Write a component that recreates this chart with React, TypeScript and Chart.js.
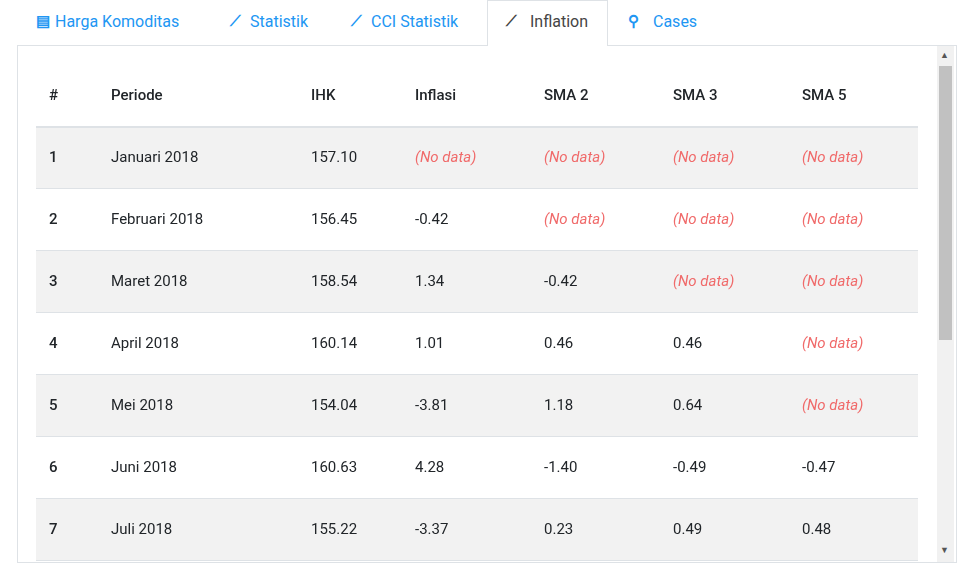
import React, { useRef, useEffect } from 'react';
import { Chart, registerables } from 'chart.js';

Chart.register(...registerables);

const headers = ['#', 'Periode', 'IHK', 'Inflasi', 'SMA 2', 'SMA 3', 'SMA 5'];
const periods = ['Januari 2018', 'Februari 2018', 'Maret 2018', 'April 2018', 'Mei 2018', 'Juni 2018', 'Juli 2018'];
const ihk = [157.1, 156.45, 158.54, 160.14, 154.04, 160.63, 155.22];
const inflasi = [null, -0.42, 1.34, 1.01, -3.81, 4.28, -3.37];
const sma2 = [null, null, -0.42, 0.46, 1.18, -1.4, 0.23];
const sma3 = [null, null, null, 0.46, 0.64, -0.49, 0.49];
const sma5 = [null, null, null, null, null, -0.47, 0.48];

const colX = [13, 75, 275, 379, 508, 637, 766];
const ROW_H = 62;
const W = 882;
const H = 497;
const FONT = 'Roboto, "Noto Sans", sans-serif';

function fmt(v: number | null) {
  return v === null ? null : v.toFixed(2);
}

const tablePlugin = {
  id: 'tablePlugin',
  afterDraw(chart: any) {
    const ctx = chart.ctx;
    const xs = chart.scales.x;
    const ys = chart.scales.y;
    const left = xs.getPixelForValue(0);
    const right = xs.getPixelForValue(W);
    ctx.save();
    ctx.textBaseline = 'middle';
    // header
    ctx.font = `500 15px ${FONT}`;
    ctx.fillStyle = '#212529';
    headers.forEach((h, i) => ctx.fillText(h, xs.getPixelForValue(colX[i]), ys.getPixelForValue(0.5)));
    periods.forEach((p, r) => {
      const top = ys.getPixelForValue(r + 1);
      const bot = ys.getPixelForValue(r + 2);
      if (r % 2 === 0) {
        ctx.fillStyle = '#f2f2f2';
        ctx.fillRect(left, top, right - left, bot - top);
      }
      ctx.fillStyle = '#dee2e6';
      ctx.fillRect(left, bot - 1, right - left, 1);
      const cy = (top + bot) / 2;
      const cells = [String(r + 1), p, ihk[r].toFixed(2), fmt(inflasi[r]), fmt(sma2[r]), fmt(sma3[r]), fmt(sma5[r])];
      cells.forEach((c, i) => {
        const x = xs.getPixelForValue(colX[i]);
        if (c === null) {
          ctx.font = `italic 15px ${FONT}`;
          ctx.fillStyle = '#f06a6a';
          ctx.fillText('(No data)', x, cy);
        } else {
          ctx.font = i === 0 ? `500 15px ${FONT}` : `15px ${FONT}`;
          ctx.fillStyle = '#212529';
          ctx.fillText(c, x, cy);
        }
      });
    });
    ctx.fillStyle = '#dee2e6';
    ctx.fillRect(left, ys.getPixelForValue(1) - 1, right - left, 2);
    ctx.restore();
  },
};

function TableChart() {
  const ref = useRef<HTMLCanvasElement>(null);
  useEffect(() => {
    if (!ref.current) return;
    const chart = new Chart(ref.current, {
      type: 'scatter',
      data: { datasets: [{ data: [] }] },
      options: {
        animation: false,
        responsive: true,
        maintainAspectRatio: false,
        layout: { padding: 0 },
        plugins: { legend: { display: false }, tooltip: { enabled: false } },
        scales: {
          x: { type: 'linear', min: 0, max: W, display: false },
          y: { type: 'linear', min: 0, max: H / ROW_H, reverse: true, display: false },
        },
      },
      plugins: [tablePlugin],
    });
    return () => chart.destroy();
  }, []);
  return (
    <div style={{ position: 'absolute', left: 36, top: 65, width: W, height: H }}>
      <canvas ref={ref} />
    </div>
  );
}

const tabs = [
  { icon: '▤', text: 'Harga Komoditas', iconX: 36, x: 55 },
  { icon: '⟋', text: 'Statistik', iconX: 230, x: 250 },
  { icon: '⟋', text: 'CCI Statistik', iconX: 351, x: 371 },
  { icon: '⟋', text: 'Inflation', iconX: 506, x: 530, active: true },
  { icon: '⚲', text: 'Cases', iconX: 628, x: 653 },
];

export default function App() {
  return (
    <div style={{ position: 'absolute', left: 0, top: 0, width: 972, height: 578, background: '#fff', fontFamily: FONT }}>
      <div style={{ position: 'absolute', left: 17, top: 45, width: 940, height: 518, border: '1px solid #dee2e6', boxSizing: 'border-box' }} />
      <div style={{ position: 'absolute', left: 487, top: 0, width: 121, height: 46, border: '1px solid #dee2e6', borderBottom: 'none', background: '#fff', boxSizing: 'border-box' }} />
      {tabs.map((t) => (
        <React.Fragment key={t.text}>
          <span style={{ position: 'absolute', left: t.iconX, top: 12, fontSize: 15, color: t.active ? '#444' : '#2196f3', fontWeight: 700 }}>{t.icon}</span>
          <span style={{ position: 'absolute', left: t.x, top: 12, fontSize: 16, color: t.active ? '#444' : '#2196f3' }}>{t.text}</span>
        </React.Fragment>
      ))}
      <TableChart />
      <div style={{ position: 'absolute', left: 937, top: 46, width: 17, height: 516, background: '#f1f1f1' }} />
      <div style={{ position: 'absolute', left: 939, top: 66, width: 13, height: 274, background: '#c1c1c1' }} />
      <span style={{ position: 'absolute', left: 940, top: 50, fontSize: 9, color: '#555' }}>▲</span>
      <span style={{ position: 'absolute', left: 940, top: 545, fontSize: 9, color: '#555' }}>▼</span>
    </div>
  );
}
